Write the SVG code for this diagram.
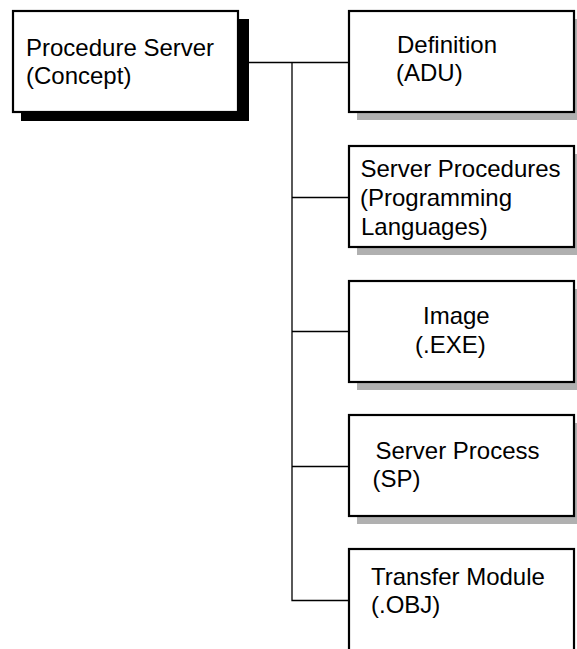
<svg xmlns="http://www.w3.org/2000/svg" width="577" height="649" viewBox="0 0 577 649">
<style>
.box{fill:#fff;stroke:#000;stroke-width:2.2}
.shadow-dark{fill:#000}
.shadow{fill:#b0b0b0}
.lbl{font-family:"Liberation Sans",Arial,sans-serif;font-size:24px;fill:#000}
.conn{stroke:#000;stroke-width:1.3;fill:none}
</style>
<rect width="577" height="649" fill="#fff"/>
<g id="connectors">
<polyline class="conn" points="239,62.5 348,62.5"/>
<polyline class="conn" points="292,62.5 292,600.5 348,600.5"/>
<line class="conn" x1="292" y1="197.5" x2="348" y2="197.5"/>
<line class="conn" x1="292" y1="331.5" x2="348" y2="331.5"/>
<line class="conn" x1="292" y1="466.5" x2="348" y2="466.5"/>
</g>
<g id="procedure-server">
<rect class="shadow-dark" x="21" y="19" width="228" height="102"/>
<rect class="box" x="13" y="11" width="225" height="101" stroke-width="2.6"/>
<text class="lbl" x="26" y="56">Procedure Server</text>
<text class="lbl" x="26" y="84">(Concept)</text>
</g>
<g id="definition">
<rect class="shadow" x="357" y="19" width="225" height="101"/>
<rect class="box" x="349" y="11" width="225" height="101"/>
<text class="lbl" x="397" y="53">Definition</text>
<text class="lbl" x="396" y="81">(ADU)</text>
</g>
<g id="server-procedures">
<rect class="shadow" x="357" y="154" width="225" height="101"/>
<rect class="box" x="349" y="146" width="225" height="101"/>
<text class="lbl" x="360.5" y="177">Server Procedures</text>
<text class="lbl" x="360" y="206">(Programming</text>
<text class="lbl" x="361" y="235">Languages)</text>
</g>
<g id="image">
<rect class="shadow" x="357" y="289" width="225" height="101"/>
<rect class="box" x="349" y="281" width="225" height="101"/>
<text class="lbl" x="423" y="323.5">Image</text>
<text class="lbl" x="415" y="353">(.EXE)</text>
</g>
<g id="server-process">
<rect class="shadow" x="357" y="423" width="225" height="101"/>
<rect class="box" x="349" y="415" width="225" height="101"/>
<text class="lbl" x="375.5" y="458.5">Server Process</text>
<text class="lbl" x="372.5" y="487">(SP)</text>
</g>
<g id="transfer-module">
<rect class="box" x="349" y="549" width="225" height="120"/>
<text class="lbl" x="371" y="585">Transfer Module</text>
<text class="lbl" x="371" y="613">(.OBJ)</text>
</g>
</svg>
